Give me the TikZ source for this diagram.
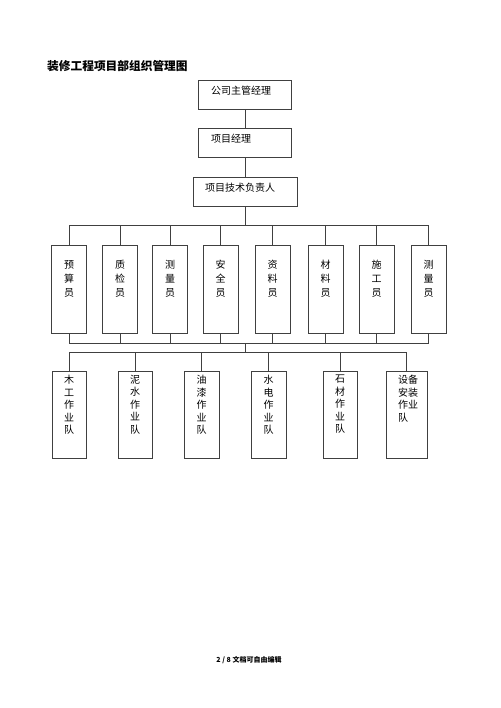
\documentclass[tikz,border=0pt]{standalone}
\usepackage{fontspec}
\setmainfont{Noto Sans CJK SC}
\tikzset{
  box/.style={draw=black!75, line width=0.6pt, inner sep=0pt},
  boxtext/.style={anchor=west, inner sep=0pt, font=\fontsize{10}{12}\selectfont},
  vtext/.style={anchor=north, align=center, inner sep=0pt, font=\fontsize{10}{14}\selectfont},
  vtextB/.style={anchor=north, align=center, inner sep=0pt, font=\fontsize{10}{12.5}\selectfont},
}
\begin{document}
\begin{tikzpicture}[x=1pt,y=-1pt]
  \useasboundingbox (0,0) rectangle (500,708);
  \node[anchor=west, inner sep=0pt, font=\fontsize{11.7}{14}\selectfont\bfseries] (title) at (47,66) {装修工程项目部组织管理图};

  \node[box, minimum width=93, minimum height=29] (gsjl) at (245,94.5) {};
  \node[boxtext] (gsjl-t) at (211,91) {公司主管经理};
  \node[box, minimum width=93, minimum height=29] (xmjl) at (245,142.5) {};
  \node[boxtext] (xmjl-t) at (211,139) {项目经理};
  \node[box, minimum width=104, minimum height=29] (jsfz) at (245,191.5) {};
  \node[boxtext] (jsfz-t) at (205,188) {项目技术负责人};

  \node[box, minimum width=35, minimum height=88] (ysy) at (69,289) {};
  \node[box, minimum width=35, minimum height=88] (zjy) at (120,289) {};
  \node[box, minimum width=35, minimum height=88] (clyA) at (170,289) {};
  \node[box, minimum width=35, minimum height=88] (aqy) at (220.5,289) {};
  \node[box, minimum width=35, minimum height=88] (zly) at (272.5,289) {};
  \node[box, minimum width=35, minimum height=88] (cly) at (325.5,289) {};
  \node[box, minimum width=35, minimum height=88] (sgy) at (376.5,289) {};
  \node[box, minimum width=35, minimum height=88] (clyB) at (428.5,289) {};
  \node[vtext] (ysy-t) at (69,260) {预\\算\\员};
  \node[vtext] (zjy-t) at (120,260) {质\\检\\员};
  \node[vtext] (clyA-t) at (170,260) {测\\量\\员};
  \node[vtext] (aqy-t) at (220.5,260) {安\\全\\员};
  \node[vtext] (zly-t) at (272.5,260) {资\\料\\员};
  \node[vtext] (cly-t) at (325.5,260) {材\\料\\员};
  \node[vtext] (sgy-t) at (376.5,260) {施\\工\\员};
  \node[vtext] (clyB-t) at (428.5,260) {测\\量\\员};

  \node[box, minimum width=34, minimum height=87] (mg) at (69,414.5) {};
  \node[box, minimum width=34, minimum height=87] (ns) at (135,414.5) {};
  \node[box, minimum width=35, minimum height=87] (yq) at (201.5,414.5) {};
  \node[box, minimum width=35, minimum height=87] (sd) at (268.5,414.5) {};
  \node[box, minimum width=34, minimum height=87] (sc) at (340,414.5) {};
  \node[box, minimum width=41, minimum height=87] (sb) at (406.5,414.5) {};
  \node[vtextB] (mg-t) at (69,375) {木\\工\\作\\业\\队};
  \node[vtextB] (ns-t) at (135,375) {泥\\水\\作\\业\\队};
  \node[vtextB] (yq-t) at (201.5,375) {油\\漆\\作\\业\\队};
  \node[vtextB] (sd-t) at (268.5,375) {水\\电\\作\\业\\队};
  \node[vtextB] (sc-t) at (340,375) {石\\材\\作\\业\\队};
  \node[vtextB, anchor=north west, align=left] (sb-t) at (398,375) {设备\\安装\\作业\\队};

  \node[inner sep=0pt, font=\fontsize{7}{8}\selectfont\bfseries] (page) at (249,660) {2 / 8 文档可自由编辑};

  \coordinate (bus1) at (245,225);
  \coordinate (bus2) at (245,343);
  \coordinate (bus3) at (245,352);
  \begin{scope}[draw=black!75, line width=0.6pt]
    \draw (gsjl) -- (xmjl);
    \draw (xmjl) -- (jsfz);
    \draw (jsfz) -- (bus1);
    \draw (ysy.north) |- (bus1);
    \draw (zjy.north) |- (bus1);
    \draw (clyA.north) |- (bus1);
    \draw (aqy.north) |- (bus1);
    \draw (zly.north) |- (bus1);
    \draw (cly.north) |- (bus1);
    \draw (sgy.north) |- (bus1);
    \draw (clyB.north) |- (bus1);
    \draw (ysy.south) |- (bus2);
    \draw (zjy.south) |- (bus2);
    \draw (clyA.south) |- (bus2);
    \draw (aqy.south) |- (bus2);
    \draw (zly.south) |- (bus2);
    \draw (cly.south) |- (bus2);
    \draw (sgy.south) |- (bus2);
    \draw (clyB.south) |- (bus2);
    \draw (bus2) -- (bus3);
    \draw (mg.north) |- (bus3);
    \draw (ns.north) |- (bus3);
    \draw (yq.north) |- (bus3);
    \draw (sd.north) |- (bus3);
    \draw (sc.north) |- (bus3);
    \draw (sb.north) |- (bus3);
  \end{scope}
\end{tikzpicture}
\end{document}
